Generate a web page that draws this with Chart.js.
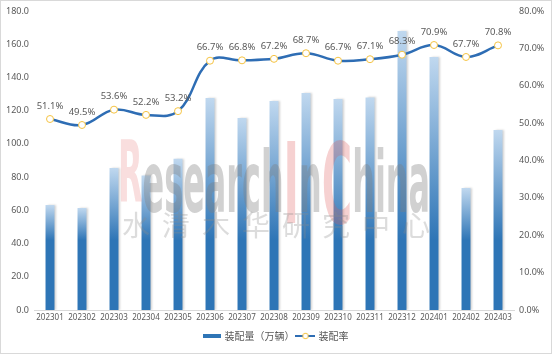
<!DOCTYPE html>
<html>
<head>
<meta charset="utf-8">
<script src="https://cdn.jsdelivr.net/npm/chart.js@4"></script>
<style>
  html, body { margin: 0; padding: 0; background: #fff; }
  #wrap { width: 552px; height: 354px; }
</style>
</head>
<body>
<div id="wrap"><canvas id="c" width="552" height="354"></canvas></div>
<script>
// 月份
var months = ['202301','202302','202303','202304','202305','202306','202307','202308',
              '202309','202310','202311','202312','202401','202402','202403'];
// 装配量（万辆）
var volume = [63.2, 61.4, 85.5, 81.0, 91.0, 127.6, 115.6, 125.8, 130.6, 127.0, 128.0, 168.0, 152.3, 73.4, 108.4];
// 装配率 %
var rate = [51.1, 49.5, 53.6, 52.2, 53.2, 66.7, 66.8, 67.2, 68.7, 66.7, 67.1, 68.3, 70.9, 67.7, 70.8];

var leftTicks = [0, 20, 40, 60, 80, 100, 120, 140, 160, 180];
var rightTicks = [0, 10, 20, 30, 40, 50, 60, 70, 80];

var fontFamily = '"Noto Sans", "Noto Sans CJK SC", sans-serif';
var cjkFamily = '"Noto Sans CJK SC", sans-serif';
var textGray = '#595959';

// 图例图标
function makeIcon(kind) {
  var cv = document.createElement('canvas');
  cv.width = kind == 'bar' ? 18 : 20; cv.height = 8;
  var g = cv.getContext('2d');
  if (kind == 'bar') {
    g.fillStyle = '#2e75b6';
    g.fillRect(0, 2, 18, 4);
  } else {
    g.strokeStyle = '#2e6db4';
    g.lineWidth = 2;
    g.beginPath(); g.moveTo(0, 4); g.lineTo(20, 4); g.stroke();
    g.fillStyle = '#fff';
    g.strokeStyle = '#f5c342';
    g.lineWidth = 1;
    g.beginPath(); g.arc(10, 4, 2.8, 0, Math.PI * 2); g.fill(); g.stroke();
  }
  return cv;
}
var barIcon = makeIcon('bar');
var lineIcon = makeIcon('line');

// 柱子渐变
function barColor(ctx) {
  var chart = ctx.chart;
  var area = chart.chartArea;
  if (!area || ctx.type !== 'data') return '#2e75b6';
  var yScale = chart.scales.y;
  var top = yScale.getPixelForValue(volume[ctx.dataIndex]);
  var dark = yScale.getPixelForValue(42);
  if (dark - top < 20) dark = top + 20;
  var gr = chart.ctx.createLinearGradient(0, top, 0, dark);
  gr.addColorStop(0, '#c0d8ef');
  gr.addColorStop(1, '#2e75b6');
  return gr;
}

// 水印
function drawWatermark(c) {
  var parts = [['R', 'pink', 86, 180], ['esearch', 'gray', 86, 190],
               ['I', 'red', 112, 194], ['n', 'gray', 86, 190],
               ['C', 'red', 112, 194], ['hina', 'gray', 86, 190]];
  c.save();
  var total = 0;
  parts.forEach(function (p) {
    c.font = 'bold ' + p[2] + 'px "DejaVu Sans Condensed", sans-serif';
    p.push(c.measureText(p[0]).width);
    total += p[4];
  });
  var sx = 312 / total;
  var x = 118;
  parts.forEach(function (p) {
    c.save();
    c.translate(x, p[3]);
    c.scale(sx, 1);
    c.font = 'bold ' + p[2] + 'px "DejaVu Sans Condensed", sans-serif';
    if (p[1] == 'pink') { c.globalAlpha = 0.2; c.fillStyle = '#e05a5a'; }
    else if (p[1] == 'red') { c.globalAlpha = 0.28; c.fillStyle = '#e05a5a'; }
    else { c.globalAlpha = 0.36; c.fillStyle = '#7f7f7f'; }
    c.fillText(p[0], 0, 0);
    c.restore();
    x += p[4] * sx;
  });
  c.globalAlpha = 0.3;
  c.fillStyle = '#8a8a8a';
  c.font = '28px ' + cjkFamily;
  c.textBaseline = 'middle';
  c.textAlign = 'center';
  var cn = '水清木华研究中心';
  for (var i = 0; i < cn.length; i++) {
    c.fillText(cn[i], 136 + i * 40, 225);
  }
  c.restore();
}

// 边框 + 水印 + 数据标签
var extras = {
  id: 'extras',
  beforeDatasetDraw: function (chart, args) {
    if (args.index === 0) {
      var c = chart.ctx;
      c.save();
      c.shadowColor = 'rgba(0,0,0,0.18)';
      c.shadowOffsetX = 2;
      c.shadowOffsetY = 0;
      c.shadowBlur = 2;
    }
  },
  afterDatasetDraw: function (chart, args) {
    if (args.index === 0) {
      chart.ctx.restore();
      drawWatermark(chart.ctx);
    }
  },
  afterDatasetsDraw: function (chart) {
    var c = chart.ctx;
    var meta = chart.getDatasetMeta(1);
    c.save();
    c.font = '9.5px ' + fontFamily;
    c.fillStyle = textGray;
    c.textAlign = 'center';
    c.textBaseline = 'middle';
    meta.data.forEach(function (pt, i) {
      c.fillText(rate[i].toFixed(1) + '%', pt.x, pt.y - 13);
    });
    c.restore();
  },
  afterDraw: function (chart) {
    var c = chart.ctx;
    c.save();
    c.strokeStyle = '#d9d9d9';
    c.lineWidth = 1;
    c.strokeRect(0.5, 0.5, chart.width - 1, chart.height - 1);
    c.restore();
  }
};

new Chart(document.getElementById('c'), {
  type: 'bar',
  data: {
    labels: months,
    datasets: [
      {
        type: 'bar',
        label: '装配量（万辆）',
        data: volume,
        yAxisID: 'y',
        backgroundColor: barColor,
        barPercentage: 0.56,
        categoryPercentage: 0.5,
        order: 2
      },
      {
        type: 'line',
        label: '装配率',
        data: rate,
        yAxisID: 'y1',
        borderColor: '#2e6db4',
        borderWidth: 2.5,
        tension: 0.4,
        pointRadius: 3.5,
        pointBackgroundColor: '#fff',
        pointBorderColor: '#f5c342',
        pointBorderWidth: 1,
        order: 1
      }
    ]
  },
  options: {
    responsive: false,
    animation: false,
    devicePixelRatio: 1,
    layout: { padding: { top: 11, left: 0, right: 0, bottom: 3 } },
    plugins: {
      tooltip: { enabled: false },
      legend: {
        position: 'bottom',
        labels: {
          color: textGray,
          font: { size: 10, family: cjkFamily },
          usePointStyle: true,
          pointStyleWidth: 16,
          boxHeight: 8,
          padding: 3,
          generateLabels: function (chart) {
            return chart.data.datasets.map(function (ds, i) {
              return {
                text: ds.label,
                pointStyle: i === 0 ? barIcon : lineIcon,
                fontColor: textGray,
                datasetIndex: i,
                lineWidth: 0
              };
            });
          }
        }
      }
    },
    scales: {
      x: {
        grid: { display: false, drawTicks: false },
        border: { color: '#d9d9d9' },
        afterFit: function (s) { s.height = 18; },
        ticks: { color: textGray, font: { size: 8, family: fontFamily }, maxRotation: 0, autoSkip: false, padding: 3 }
      },
      y: {
        position: 'left',
        min: 0, max: 180,
        afterBuildTicks: function (s) { s.ticks = leftTicks.map(function (v) { return { value: v }; }); },
        afterFit: function (s) { s.width = 34; },
        grid: { display: false, drawTicks: false },
        border: { display: false },
        ticks: { color: textGray, font: { size: 9, family: fontFamily }, padding: 5,
                 callback: function (v) { return Number(v).toFixed(1); } }
      },
      y1: {
        position: 'right',
        min: 0, max: 80,
        afterBuildTicks: function (s) { s.ticks = rightTicks.map(function (v) { return { value: v }; }); },
        afterFit: function (s) { s.width = 38; },
        grid: { display: false, drawTicks: false },
        border: { display: false },
        ticks: { color: textGray, font: { size: 9, family: fontFamily }, padding: 5,
                 callback: function (v) { return Number(v).toFixed(1) + '%'; } }
      }
    }
  },
  plugins: [extras]
});
</script>
</body>
</html>
